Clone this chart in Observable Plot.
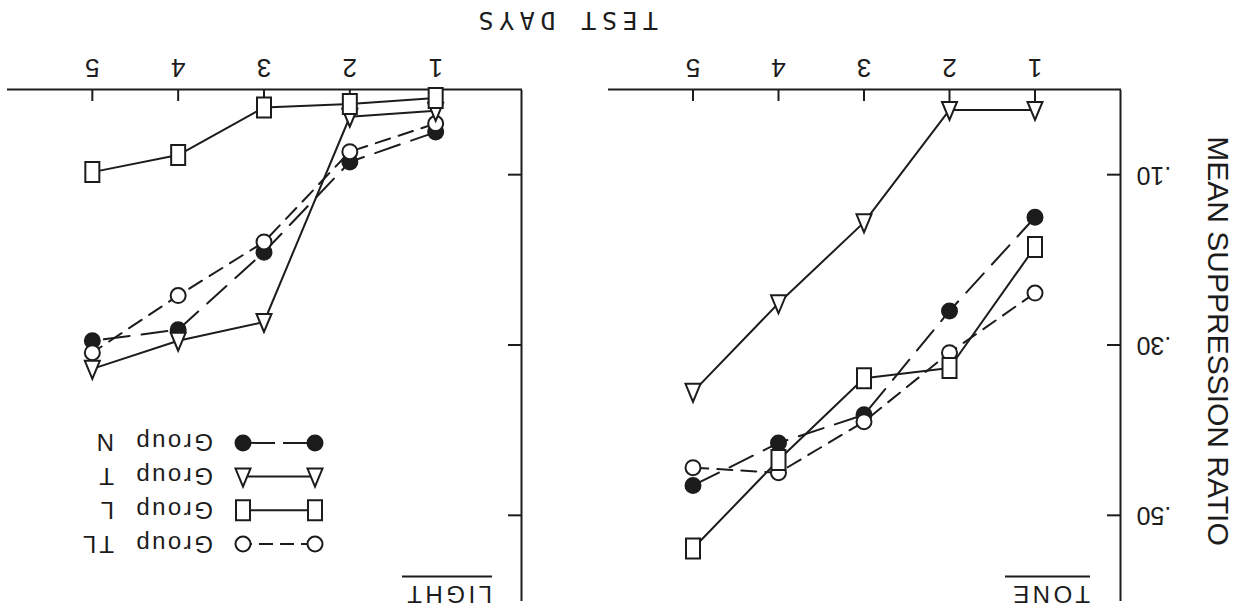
<!DOCTYPE html>
<html><head><meta charset="utf-8">
<script src="https://cdn.jsdelivr.net/npm/d3@7"></script>
<script src="https://cdn.jsdelivr.net/npm/@observablehq/plot@0.6"></script>
<style>
html,body{margin:0;padding:0;background:#fff;}
#root{position:relative;width:1236px;height:611px;transform:rotate(180deg);overflow:hidden;background:#fff;}
#root > svg{position:absolute;left:0;top:0;}
</style></head><body><div id="root"></div>
<script>
// ---- data ----
const days = [1, 2, 3, 4, 5];
const yTicks = [0.10, 0.30, 0.50];
const panelNames = ["TONE", "LIGHT"];
const groupNames = ["N", "T", "L", "TL"];
const legendOrder = ["TL", "L", "T", "N"];

const toneN  = [0.150, 0.260, 0.382, 0.415, 0.465];
const toneT  = [0.024, 0.024, 0.156, 0.251, 0.355];
const toneL  = [0.185, 0.327, 0.339, 0.435, 0.539];
const toneTL = [0.239, 0.309, 0.390, 0.450, 0.444];

const lightN  = [0.050, 0.085, 0.191, 0.282, 0.295];
const lightT  = [0.025, 0.032, 0.273, 0.295, 0.328];
const lightL  = [0.010, 0.017, 0.021, 0.077, 0.097];
const lightTL = [0.040, 0.073, 0.179, 0.242, 0.309];

const axisTitleY = "MEAN SUPPRESSION RATIO";
const axisTitleX = "TEST DAYS";
const groupWord = "Group";

// ---- styling ----
const ink = "#1c1c1c";
const W = 1236, H = 611;
const mTop = 10, mBottom = 90;
const frameH = H - mTop - mBottom;

const rectSymbol = {draw(ctx) { ctx.moveTo(-7, -10); ctx.lineTo(7, -10); ctx.lineTo(7, 10); ctx.lineTo(-7, 10); ctx.closePath(); }};
const triSymbol  = {draw(ctx) { ctx.moveTo(0, -10); ctx.lineTo(7.5, 8); ctx.lineTo(-7.5, 8); ctx.closePath(); }};
const style = {
  N:  {dash: "26,12", symbol: "circle", fill: ink},
  T:  {dash: null, symbol: triSymbol, fill: "white"},
  L:  {dash: null, symbol: rectSymbol, fill: "white"},
  TL: {dash: "15,9", symbol: "circle", fill: "white"}
};

function tidy(arrs) {
  const out = {};
  groupNames.forEach((g, i) => { out[g] = days.map((d, j) => ({day: d, value: arrs[i][j], group: g})); });
  return out;
}
const toneData = tidy([toneN, toneT, toneL, toneTL]);
const lightData = tidy([lightN, lightT, lightL, lightTL]);

function panel(data, marginLeft, marginRight, showYLabels) {
  const frameW = W - marginLeft - marginRight;
  const marks = [
    Plot.ruleX([0], {stroke: ink, strokeWidth: 2}),
    Plot.ruleY([0], {stroke: ink, strokeWidth: 2}),
    Plot.tickX(days, {x: d => d, insetTop: frameH - 11, stroke: ink, strokeWidth: 2}),
    Plot.tickY(yTicks, {y: d => d, insetRight: frameW - 14, stroke: ink, strokeWidth: 2}),
    Plot.axisX({ticks: days, tickSize: 0, tickPadding: 12, fontSize: 26, label: null, tickFormat: d => String(d)})
  ];
  if (showYLabels) marks.push(Plot.axisY({ticks: yTicks, tickSize: 0, tickPadding: 16, fontSize: 25, label: null,
    tickFormat: d => d3.format(".2f")(d).replace(/^0/, "")}));
  for (const g of groupNames) {
    marks.push(Plot.line(data[g], {x: "day", y: "value", stroke: ink, strokeWidth: 2, strokeDasharray: style[g].dash}));
  }
  for (const g of ["N", "TL", "T", "L"]) {
    marks.push(Plot.dot(data[g], {x: "day", y: "value", r: 7.5, symbol: style[g].symbol, fill: style[g].fill, stroke: ink, strokeWidth: 2}));
  }
  return Plot.plot({
    width: W, height: H,
    marginLeft, marginRight, marginTop: mTop, marginBottom: mBottom,
    x: {domain: [0, 6]},
    y: {domain: [0, 0.6], axis: null},
    style: {background: "transparent", fontFamily: "Liberation Sans, Arial, sans-serif", color: ink},
    marks
  });
}

const root = document.getElementById("root");
root.appendChild(panel(toneData, 115, W - 628, true));
root.appendChild(panel(lightData, 714, 7, false));

// ---- overlay: titles, axis titles, legend ----
const svg = d3.select(root).append("svg").attr("width", W).attr("height", H)
  .style("font-family", "Liberation Sans, Arial, sans-serif").attr("fill", ink);

svg.append("text").attr("transform", "translate(28,270) rotate(-90)").attr("text-anchor", "middle")
  .attr("font-size", 30).text(axisTitleY);
svg.append("text").attr("x", 578).attr("y", 599).attr("font-size", 25).attr("letter-spacing", 5.5)
  .style("font-family", "DejaVu Sans Mono, monospace").text(axisTitleX);

const titlePos = [{x: 146, w: 85}, {x: 744, w: 90}];
panelNames.forEach((name, i) => {
  svg.append("text").attr("x", titlePos[i].x).attr("y", 25).attr("font-size", 24).attr("letter-spacing", 3.5).text(name);
  svg.append("line").attr("x1", titlePos[i].x).attr("x2", titlePos[i].x + titlePos[i].w).attr("y1", 34.5).attr("y2", 34.5)
    .attr("stroke", ink).attr("stroke-width", 2);
});

const lx1 = 921, lx2 = 993;
legendOrder.forEach((g, i) => {
  const y = 67 + i * 33.7;
  const row = svg.append("g");
  row.append("line").attr("x1", lx1).attr("x2", lx2).attr("y1", y).attr("y2", y).attr("stroke", ink).attr("stroke-width", 2)
    .attr("stroke-dasharray", g === "N" ? "32,8" : g === "TL" ? "14,7" : null);
  for (const x of [lx1, lx2]) {
    const st = style[g];
    const p = d3.path();
    if (st.symbol === "circle") { p.arc(0, 0, 7.5, 0, 2 * Math.PI); } else { st.symbol.draw(p); }
    row.append("path").attr("d", p.toString()).attr("transform", `translate(${x},${y})`)
      .attr("fill", st.fill).attr("stroke", ink).attr("stroke-width", 2);
  }
  row.append("text").attr("x", 1023).attr("y", y + 8.5).attr("font-size", 24).attr("letter-spacing", 2.5).text(groupWord);
  row.append("text").attr("x", 1122).attr("y", y + 8.5).attr("font-size", 24).attr("letter-spacing", 3).text(g);
});
</script>
</body></html>
